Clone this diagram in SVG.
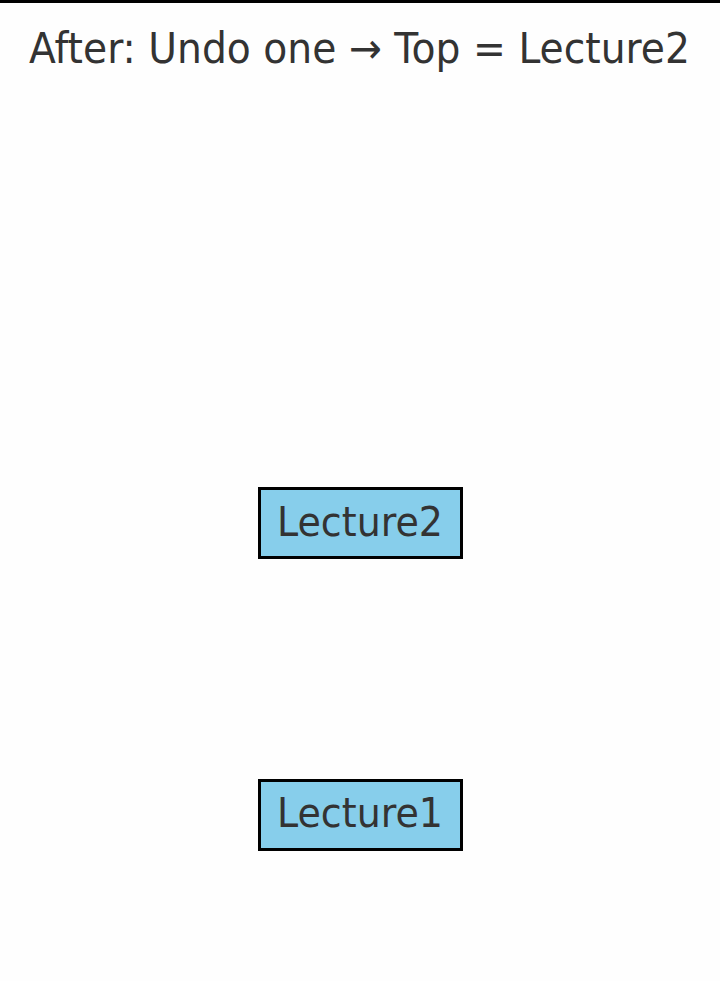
<svg xmlns="http://www.w3.org/2000/svg" width="720" height="981" viewBox="0 0 720 981">
<style>
.t{font-family:"DejaVu Sans",sans-serif;fill:#333333;text-anchor:middle}
.box{fill:#87CEEB;stroke:#000;stroke-width:3}
</style>
<rect x="0" y="0" width="720" height="981" fill="#fefefe"/>
<rect x="0" y="0" width="720" height="3" fill="#000"/>
<text class="t" x="359.5" y="63" font-size="42" textLength="661" lengthAdjust="spacingAndGlyphs">After: Undo one → Top = Lecture2</text>
<g id="connectors"></g>
<g id="lecture2">
<rect class="box" x="259.5" y="488.5" width="202" height="69"/>
<text class="t" x="360" y="535.5" font-size="40" textLength="166" lengthAdjust="spacingAndGlyphs">Lecture2</text>
</g>
<g id="lecture1">
<rect class="box" x="259.5" y="780.5" width="202" height="69"/>
<text class="t" x="360" y="827" font-size="40" textLength="166" lengthAdjust="spacingAndGlyphs">Lecture1</text>
</g>
</svg>
